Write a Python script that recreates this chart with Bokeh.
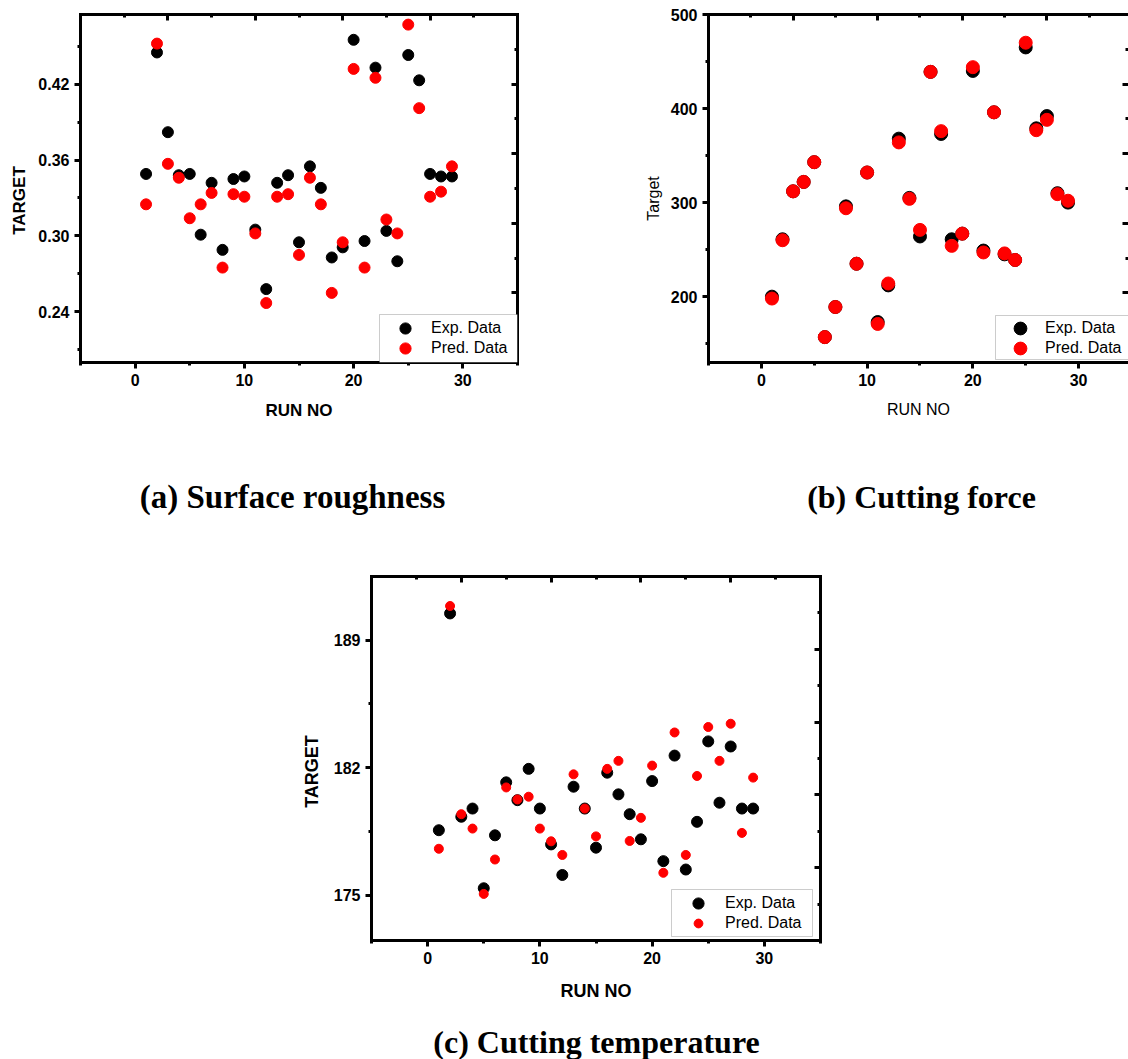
import math

from bokeh.embed import file_html
from bokeh.layouts import column, row
from bokeh.models import (BoxAnnotation, FixedTicker, Label, Legend, LegendItem,
                          LinearAxis, NumeralTickFormatter, Range1d)
from bokeh.plotting import figure
from bokeh.resources import INLINE

# ---- data -----------------------------------------------------------------
run_no = list(range(1, 30))

ra_exp = [0.349, 0.445, 0.382, 0.348, 0.349, 0.301, 0.342, 0.289, 0.345, 0.347,
          0.305, 0.258, 0.342, 0.348, 0.295, 0.355, 0.338, 0.283, 0.291, 0.455,
          0.296, 0.433, 0.304, 0.280, 0.443, 0.423, 0.349, 0.347, 0.347]
ra_pred = [0.325, 0.452, 0.357, 0.346, 0.314, 0.325, 0.334, 0.275, 0.333, 0.331,
           0.302, 0.247, 0.331, 0.333, 0.285, 0.346, 0.325, 0.255, 0.295, 0.432,
           0.275, 0.425, 0.313, 0.302, 0.467, 0.401, 0.331, 0.335, 0.355]

force_exp = [200, 261, 312, 322, 343, 157, 189, 296, 235, 332, 173, 212, 368, 305,
             264, 439, 373, 261, 267, 440, 249, 396, 245, 239, 465, 379, 392, 310, 300]
force_pred = [198, 260, 312, 322, 343, 157, 189, 294, 235, 332, 171, 214, 364, 304,
              271, 439, 376, 254, 267, 444, 247, 396, 246, 239, 470, 377, 388, 309, 302]

temp_exp = [178.56, 190.47, 179.30, 179.75, 175.37, 178.28, 181.19, 180.21, 181.93,
            179.75, 177.78, 176.10, 180.95, 179.75, 177.60, 181.72, 180.53, 179.44,
            178.06, 181.26, 176.86, 182.66, 176.40, 179.02, 183.44, 180.07, 183.16,
            179.75, 179.75]
temp_pred = [177.54, 190.88, 179.44, 178.65, 175.06, 176.95, 180.91, 180.25, 180.40,
             178.65, 177.95, 177.20, 181.63, 179.75, 178.22, 181.93, 182.37, 177.97,
             179.24, 182.11, 176.22, 183.93, 177.20, 181.54, 184.23, 182.37, 184.41,
             178.41, 181.45]

run_ticks = [0, 10, 20, 30]
run_minor = [-5, 5, 15, 25, 35]
ra_ticks = [0.24, 0.30, 0.36, 0.42]
ra_minor = [0.21, 0.27, 0.33, 0.39, 0.45]
force_ticks = [200, 300, 400, 500]
force_minor = [150, 250, 350, 450]
temp_ticks = [175, 182, 189]
temp_minor = [178.5, 185.5]

series_labels = ["Exp. Data", "Pred. Data"]

SANS = "Liberation Sans"
SERIF = "Liberation Serif"


def style_axis(ax, inward=False):
    ax.axis_line_width = 3
    ax.axis_line_color = "black"
    ax.axis_line_cap = "square"
    ax.major_tick_line_width = 3
    ax.minor_tick_line_width = 3
    ax.major_tick_line_color = "black"
    ax.minor_tick_line_color = "black"
    if inward:
        ax.major_tick_in = 6
        ax.major_tick_out = 0
        ax.minor_tick_in = 3
        ax.minor_tick_out = 0
        ax.major_label_text_font_size = "0px"
        ax.major_label_text_color = None
        ax.major_label_standoff = 0
    else:
        ax.major_tick_in = 0
        ax.major_tick_out = 6
        ax.minor_tick_in = 0
        ax.minor_tick_out = 3
        ax.major_label_standoff = 5
        ax.major_label_text_font = SANS
        ax.major_label_text_font_style = "bold"
        ax.major_label_text_font_size = "16px"
        ax.major_label_text_color = "black"


def panel(width, height, borders, x_end, y_range, y_ticks, y_minor, top_end,
          exp, pred, sizes, x_title, y_fmt=None, right_axis_line=True):
    left, right, top, bottom = borders
    p = figure(width=width, height=height, output_backend="svg",
               toolbar_location=None, x_range=Range1d(-5, x_end),
               y_range=Range1d(*y_range), min_border_left=left,
               min_border_right=right, min_border_top=top,
               min_border_bottom=bottom, background_fill_color="white",
               border_fill_color="white")
    p.outline_line_color = None
    p.xgrid.visible = False
    p.ygrid.visible = False

    p.xaxis.ticker = FixedTicker(ticks=run_ticks, minor_ticks=run_minor)
    p.yaxis.ticker = FixedTicker(ticks=y_ticks, minor_ticks=y_minor)
    if y_fmt:
        p.yaxis.formatter = NumeralTickFormatter(format=y_fmt)
    style_axis(p.xaxis[0])
    style_axis(p.yaxis[0])

    text, size, style, standoff = x_title
    xa = p.xaxis[0]
    xa.axis_label = text
    xa.axis_label_text_font = SANS
    xa.axis_label_text_font_size = size
    xa.axis_label_text_font_style = style
    xa.axis_label_text_color = "black"
    xa.axis_label_standoff = standoff

    # unlabelled companion axes on the top and right edges
    p.extra_x_ranges = {"top": Range1d(0, top_end)}
    p.extra_y_ranges = {"right": Range1d(0, 10)}
    top_ax = LinearAxis(x_range_name="top",
                        ticker=FixedTicker(ticks=[2, 4, 6, 8], minor_ticks=[1, 3, 5, 7, 9]))
    right_ax = LinearAxis(y_range_name="right",
                          ticker=FixedTicker(ticks=[2, 4, 6, 8], minor_ticks=[1, 3, 5, 7, 9]))
    style_axis(top_ax, inward=True)
    style_axis(right_ax, inward=True)
    if not right_axis_line:
        right_ax.axis_line_color = None
    p.add_layout(top_ax, "above")
    p.add_layout(right_ax, "right")

    r_exp = p.scatter(run_no, exp, size=sizes[0], color="black")
    r_pred = p.scatter(run_no, pred, size=sizes[1], color="red")
    return p, r_exp, r_pred


def add_legend(p, renderers, box, rows, glyph_hs, glyph_w, label_w):
    left, bottom, w, h = box
    p.add_layout(BoxAnnotation(left=left, right=left + w, bottom=bottom, top=bottom + h,
                               left_units="screen", right_units="screen",
                               top_units="screen", bottom_units="screen",
                               fill_color="white", fill_alpha=1,
                               line_color="#555555", line_width=1))
    for lab, r, yc, gh in zip(series_labels, renderers, rows, glyph_hs):
        p.add_layout(Legend(items=[LegendItem(label=lab, renderers=[r])],
                            location=(left, yc - gh / 2), padding=0, spacing=0,
                            glyph_height=gh, glyph_width=glyph_w, label_standoff=0,
                            label_height=20, label_width=label_w,
                            label_text_font=SANS, label_text_font_size="16px",
                            label_text_color="black", border_line_color=None,
                            background_fill_alpha=0))


def text_panel(width, height, texts):
    t = figure(width=width, height=height, output_backend="svg",
               toolbar_location=None, x_axis_location=None, y_axis_location=None,
               x_range=Range1d(0, width), y_range=Range1d(0, height), min_border=0,
               background_fill_color="white", border_fill_color="white")
    t.outline_line_color = None
    t.grid.visible = False
    for x, y, text, font, size, style, angle, baseline in texts:
        t.add_layout(Label(x=x, y=y, x_units="screen", y_units="screen", text=text,
                           text_font=font, text_font_size=size, text_font_style=style,
                           text_align="center", text_baseline=baseline, angle=angle,
                           text_color="black"))
    return t


UP = math.pi / 2

# ---- (a) surface roughness ------------------------------------------------
pa, ra1, ra2 = panel(528, 430, (48, 43, 13, 68), 35, (0.2, 0.475),
                     ra_ticks, ra_minor, 10, ra_exp, ra_pred, (11, 11),
                     ("RUN NO", "17px", "bold", 12), y_fmt="0.00")
add_legend(pa, [ra1, ra2], (299, 0, 138, 48), (34, 14), (28, 28), 52, 86)
# side title strip shares the plot's frame band (13 .. 362)
ta = text_panel(32, 430, [(19, 162, "TARGET", SANS, "17px", "bold", UP, "middle")])

# ---- (b) cutting force ----------------------------------------------------
pb, fb1, fb2 = panel(464, 430, (44, 0, 14, 68), 34.72, (130, 500),
                     force_ticks, force_minor, 9.93, force_exp, force_pred, (13, 13),
                     ("RUN NO", "16px", "normal", 12), right_axis_line=False)
add_legend(pb, [fb1, fb2], (287, 3, 141, 44), (34, 14), (32, 32), 50, 86)
tb = text_panel(104, 430, [(93, 164, "Target", SANS, "16px", "normal", UP, "middle")])

caps_ab = text_panel(1128, 115, [
    (292, 49, "(a) Surface roughness", SERIF, "33px", "bold", 0.0, "alphabetic"),
    (921, 49, "(b) Cutting force", SERIF, "32px", "bold", 0.0, "alphabetic"),
])

# ---- (c) cutting temperature ----------------------------------------------
pc, tc1, tc2 = panel(798, 465, (41, 308, 31, 70), 35, (172.5, 192.5),
                     temp_ticks, temp_minor, 10, temp_exp, temp_pred, (11, 9),
                     ("RUN NO", "18px", "bold", 14))
add_legend(pc, [tc1, tc2], (300, 4, 141, 47), (37, 17), (28, 22), 54, 87)
tcl = text_panel(330, 465, [(311, 169, "TARGET", SANS, "18px", "bold", UP, "middle")])

caps_c = text_panel(1128, 49, [
    (596, 18, "(c) Cutting temperature", SERIF, "32px", "bold", 0.0, "alphabetic"),
])

layout = column(row(ta, pa, tb, pb), caps_ab, row(tcl, pc), caps_c)

open("out.html", "w").write(file_html(layout, INLINE))
